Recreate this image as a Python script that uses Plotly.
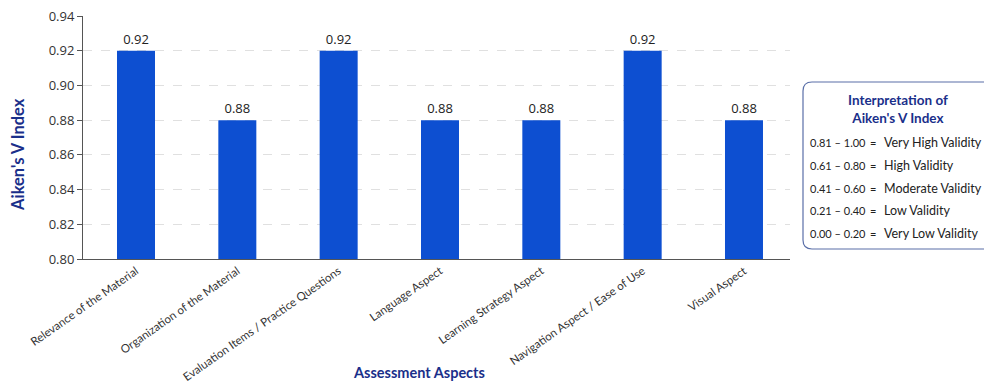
import plotly.graph_objects as go

categories = [
    "Relevance of the Material",
    "Organization of the Material",
    "Evaluation Items / Practice Questions",
    "Language Aspect",
    "Learning Strategy Aspect",
    "Navigation Aspect / Ease of Use",
    "Visual Aspect",
]
aiken_v = [0.92, 0.88, 0.92, 0.88, 0.88, 0.92, 0.88]

y_ticks = [0.80, 0.82, 0.84, 0.86, 0.88, 0.90, 0.92, 0.94]

legend_title = "Interpretation of<br>Aiken's V Index"
legend_ranges = ["0.81 – 1.00", "0.61 – 0.80", "0.41 – 0.60", "0.21 – 0.40", "0.00 – 0.20"]
legend_labels = ["Very High Validity", "High Validity", "Moderate Validity", "Low Validity", "Very Low Validity"]

W, H = 984, 382
L, R, T, B = 83, 194, 16, 123
PW, PH = W - L - R, H - T - B

def px(x):
    return (x - L) / PW

def py(y):
    return (H - B - y) / PH

NAVY = "#1a2f8a"
BAR = "#0d4fd1"

fig = go.Figure()
fig.add_trace(go.Bar(
    x=list(range(len(categories))), y=aiken_v,
    marker=dict(color=BAR, line=dict(width=0)),
    width=0.375,
    text=[f"{v:.2f}" for v in aiken_v],
    textposition="outside",
    textfont=dict(family="Open Sans", size=13, color="#222222"),
    cliponaxis=False,
    hovertext=categories, hoverinfo="text+y",
))

fig.update_layout(
    width=W, height=H,
    margin=dict(l=L, r=R, t=T, b=B, autoexpand=False),
    paper_bgcolor="white", plot_bgcolor="white",
    showlegend=False,
    xaxis=dict(
        range=[-0.523, 6.454],
        tickvals=list(range(len(categories))),
        ticktext=categories,
        tickangle=-35,
        tickfont=dict(family="Lato", size=11.5, color="#333333"),
        showline=True, linecolor="#555555", linewidth=1,
        ticks="", showgrid=False, zeroline=False,
    ),
    yaxis=dict(
        range=[0.80, 0.94],
        tickvals=y_ticks,
        ticktext=[f"{v:.2f}" for v in y_ticks],
        tickfont=dict(family="Open Sans", size=13, color="#333333"),
        showline=True, linecolor="#555555", linewidth=1,
        ticks="outside", ticklen=5, tickcolor="#555555",
        showgrid=True, gridcolor="#e0e0e0", griddash="dash", gridwidth=1,
        zeroline=False,
    ),
)

# axis titles
fig.add_annotation(
    text="<b>Aiken's V Index</b>", xref="paper", yref="paper",
    x=px(18), y=py(155), textangle=-90, showarrow=False,
    font=dict(family="Lato", size=16.5, color=NAVY),
    xanchor="center", yanchor="middle",
)
fig.add_annotation(
    text="<b>Assessment Aspects</b>", xref="paper", yref="paper",
    x=px(419), y=py(372), showarrow=False,
    font=dict(family="Lato", size=14.5, color=NAVY),
    xanchor="center", yanchor="middle",
)

# interpretation box (rounded rectangle)
x0, x1, y0, y1, r = 803, 994, 82, 249, 9
rx, ry = r / PW, r / PH
X0, X1, Y0, Y1 = px(x0), px(x1), py(y1), py(y0)
path = (
    f"M {X0+rx},{Y0} L {X1-rx},{Y0} Q {X1},{Y0} {X1},{Y0+ry} "
    f"L {X1},{Y1-ry} Q {X1},{Y1} {X1-rx},{Y1} "
    f"L {X0+rx},{Y1} Q {X0},{Y1} {X0},{Y1-ry} "
    f"L {X0},{Y0+ry} Q {X0},{Y0} {X0+rx},{Y0} Z"
)
fig.add_shape(type="path", path=path, xref="paper", yref="paper",
              line=dict(color="#5a6fa8", width=1.2), fillcolor="white")

fig.add_annotation(
    text=f"<b>{legend_title}</b>", xref="paper", yref="paper",
    x=px(898), y=py(109), showarrow=False,
    font=dict(family="Lato", size=13.5, color=NAVY),
    xanchor="center", yanchor="middle", align="center",
)

row_y = [142, 165, 188, 210, 233]
for yy, rng, lab in zip(row_y, legend_ranges, legend_labels):
    fig.add_annotation(text=rng, xref="paper", yref="paper", x=px(808), y=py(yy),
                       showarrow=False, xanchor="left", yanchor="middle",
                       font=dict(family="Lato", size=11, color="#222222"))
    fig.add_annotation(text="=", xref="paper", yref="paper", x=px(873), y=py(yy),
                       showarrow=False, xanchor="center", yanchor="middle",
                       font=dict(family="Lato", size=11, color="#222222"))
    fig.add_annotation(text=lab, xref="paper", yref="paper", x=px(882), y=py(yy),
                       showarrow=False, xanchor="left", yanchor="middle",
                       font=dict(family="Lato", size=12.5, color="#222222"))

fig.write_html("out.html")
